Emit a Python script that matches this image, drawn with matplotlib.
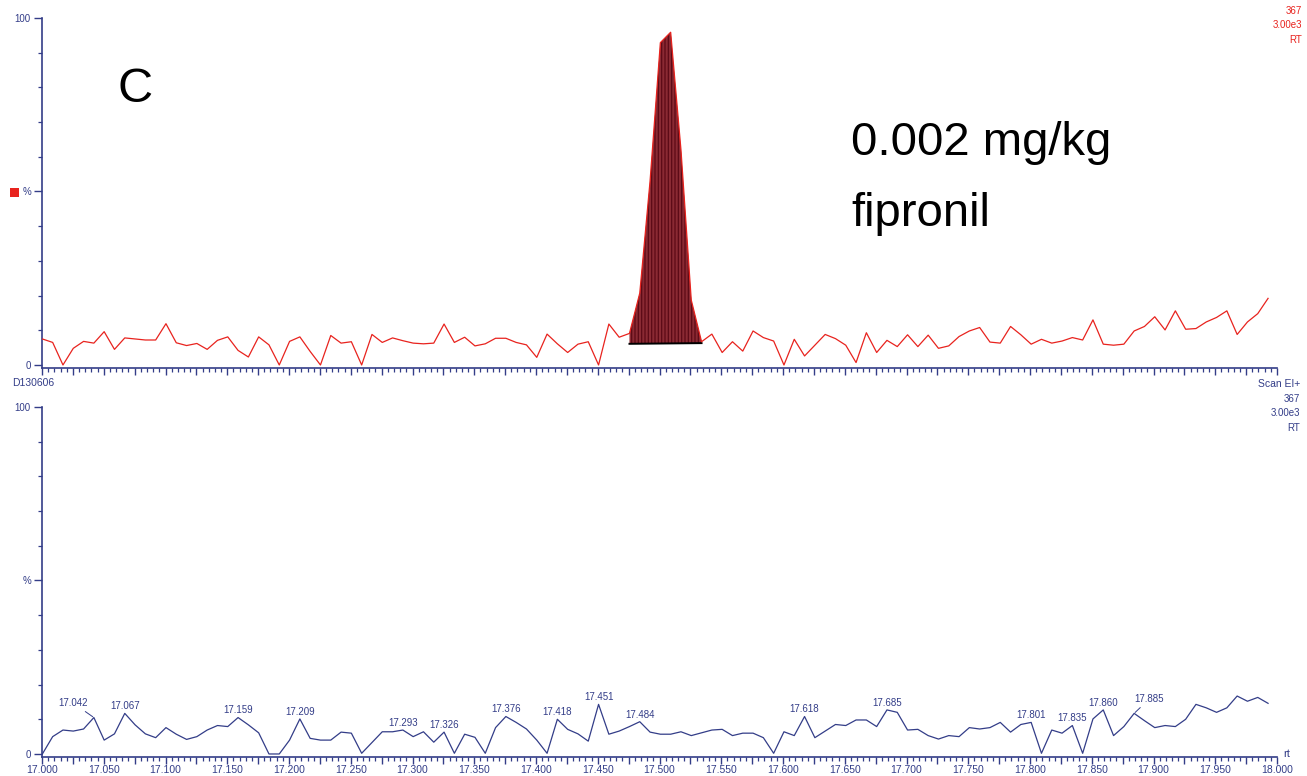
import numpy as np
import matplotlib
matplotlib.use("Agg")
import matplotlib.pyplot as plt
from matplotlib.ticker import MultipleLocator, FixedLocator, FuncFormatter
from matplotlib.patches import Rectangle

plt.rcParams['font.family'] = ['Liberation Sans', 'DejaVu Sans']
plt.rcParams['hatch.linewidth'] = 0.9

NAVY = '#333d88'
RED = '#e8231e'
PEAK_FILL = '#8a2a33'
PEAK_HATCH = '#5c0a16'

# scan grid, retention time in minutes
scan_start = 17.0003
scan_step = 0.00834
n_scans = 120

# upper trace (fortified sample), % of 3.00e3
top_pct = [7.5, 6.5, 0.0, 4.8, 6.8, 6.3, 9.6, 4.5, 7.8, 7.5,
           7.2, 7.2, 11.9, 6.4, 5.6, 6.2, 4.5, 7.1, 8.1, 4.2,
           2.3, 8.1, 5.8, 0.0, 6.8, 8.1, 3.9, 0.0, 8.5, 6.3,
           6.7, 0.0, 8.8, 6.5, 7.8, 7.0, 6.3, 6.1, 6.3, 11.8,
           6.5, 8.0, 5.5, 6.1, 7.7, 7.7, 6.5, 5.8, 2.2, 8.9,
           6.1, 3.6, 6.0, 6.7, 0.0, 11.8, 8.0, 9.1, 20.7, 53.0,
           92.9, 95.9, 62.0, 18.7, 6.7, 8.9, 3.6, 6.7, 4.0, 9.8,
           7.9, 6.9, 0.0, 7.4, 2.6, 5.7, 8.8, 7.6, 5.7, 0.7,
           9.3, 3.6, 7.1, 5.3, 8.7, 5.3, 8.6, 4.8, 5.5, 8.2,
           9.8, 10.8, 6.6, 6.3, 11.1, 8.7, 6.0, 7.4, 6.3, 6.9,
           7.9, 7.2, 13.0, 6.0, 5.7, 6.0, 9.8, 11.1, 13.9, 10.1,
           15.6, 10.3, 10.5, 12.4, 13.7, 15.6, 8.8, 12.4, 14.8, 19.2]

# integrated peak: first/last scan and baseline level
peak_start, peak_end = 57, 64
peak_base = [6.1, 6.3]

# lower trace (blank), % of 3.00e3
bottom_pct = [0.0, 5.0, 6.9, 6.6, 7.2, 10.5, 4.0, 5.8, 11.7, 8.4,
              5.8, 4.7, 7.6, 5.7, 4.2, 5.0, 6.9, 8.2, 7.9, 10.5,
              8.4, 6.1, 0.0, 0.0, 4.0, 10.1, 4.5, 4.0, 4.0, 6.3,
              6.0, 0.2, 3.3, 6.4, 6.4, 6.9, 5.0, 6.4, 3.4, 6.3,
              0.2, 5.7, 4.8, 0.2, 7.6, 10.8, 9.1, 7.2, 4.0, 0.2,
              10.0, 7.1, 5.8, 3.7, 14.3, 5.7, 6.6, 7.9, 9.3, 6.3,
              5.7, 5.7, 6.4, 5.3, 6.1, 6.9, 7.1, 5.3, 6.0, 6.0,
              4.7, 0.2, 6.4, 5.3, 10.8, 4.7, 6.6, 8.5, 8.2, 9.8,
              9.8, 7.9, 12.7, 12.0, 6.9, 7.1, 5.3, 4.3, 5.3, 5.0,
              7.6, 7.2, 7.6, 9.1, 6.3, 8.5, 9.1, 0.2, 6.9, 6.0,
              8.2, 0.2, 10.1, 12.7, 5.3, 7.9, 11.7, 9.6, 7.6, 8.2,
              7.9, 10.0, 14.3, 13.3, 12.0, 13.3, 16.7, 15.2, 16.3, 14.6]

peak_labels = ['17.042', '17.067', '17.159', '17.209', '17.293', '17.326',
               '17.376', '17.418', '17.451', '17.484', '17.618', '17.685',
               '17.801', '17.835', '17.860', '17.885']
# labels pushed aside with a leader line (offset in points)
leader_offsets = {'17.042': (-15, 10.5), '17.885': (11, 10.5)}

rt = scan_start + scan_step * np.arange(n_scans)
top_pct = np.array(top_pct)
bottom_pct = np.array(bottom_pct)

W, H = 1307, 776
fig = plt.figure(figsize=(W / 100, H / 100), dpi=100)


def px_axes(top_px, bottom_px):
    return fig.add_axes([42 / W, 1 - bottom_px / H, 1235 / W, (bottom_px - top_px) / H])


def style_axes(ax, show_xlabels):
    ax.set_xlim(17.0, 18.0)
    ax.set_ylim(-0.87, 100)
    for s in ('top', 'right'):
        ax.spines[s].set_visible(False)
    for s in ('left', 'bottom'):
        ax.spines[s].set_color(NAVY)
        ax.spines[s].set_linewidth(1.2)
    ax.yaxis.set_major_locator(FixedLocator([0, 50, 100]))
    ax.yaxis.set_major_formatter(FuncFormatter(lambda v, p: {0: '0', 50: '%', 100: '100'}.get(int(v), '')))
    ax.yaxis.set_minor_locator(MultipleLocator(10))
    ax.xaxis.set_major_locator(MultipleLocator(0.025))
    ax.xaxis.set_minor_locator(MultipleLocator(0.005))
    if show_xlabels:
        ax.xaxis.set_major_formatter(FuncFormatter(
            lambda v, p: f'{v:.3f}' if abs(round(v / 0.05) * 0.05 - v) < 1e-6 else ''))
    else:
        ax.xaxis.set_major_formatter(FuncFormatter(lambda v, p: ''))
    ax.tick_params(axis='both', which='major', length=6, width=1.0, color=NAVY,
                   labelcolor=NAVY, labelsize=7, pad=2)
    ax.tick_params(axis='both', which='minor', length=3, width=0.9, color=NAVY)
    ax.tick_params(axis='x', which='major', length=5, labelsize=7.5, pad=0.5)


# ---- upper panel -------------------------------------------------------
ax1 = px_axes(18, 368)
style_axes(ax1, False)
xs = rt[peak_start:peak_end + 1]
ax1.fill_between(xs, top_pct[peak_start:peak_end + 1],
                 np.interp(xs, [xs[0], xs[-1]], peak_base),
                 facecolor=PEAK_FILL, edgecolor=PEAK_HATCH, hatch='|||||',
                 linewidth=0, zorder=2)
ax1.plot([xs[0], xs[-1]], peak_base, color='black', lw=1.4, zorder=3)
ax1.plot(rt, top_pct, color=RED, lw=0.9, zorder=4)

# ---- lower panel -------------------------------------------------------
ax2 = px_axes(407, 757)
style_axes(ax2, True)
ax2.plot(rt, bottom_pct, color=NAVY, lw=0.9)
for lab in peak_labels:
    i = int(np.argmin(np.abs(rt - float(lab))))
    if lab in leader_offsets:
        ax2.annotate(lab, (rt[i], bottom_pct[i]), xytext=leader_offsets[lab],
                     textcoords='offset points', ha='center', va='center',
                     fontsize=7, color=NAVY,
                     arrowprops=dict(arrowstyle='-', color=NAVY, lw=0.7,
                                     shrinkA=1, shrinkB=1))
    else:
        ax2.annotate(lab, (rt[i], bottom_pct[i]), xytext=(0, 3),
                     textcoords='offset points', ha='center', va='baseline',
                     fontsize=7, color=NAVY)


# ---- figure texts ------------------------------------------------------
def ftext(x, y, s, **kw):
    fig.text(x / W, 1 - y / H, s, **kw)


ftext(117, 90, 'C', fontsize=35, color='black', ha='left', va='center')
ftext(851, 155, '0.002 mg/kg', fontsize=34, color='black', ha='left', va='baseline')
ftext(851, 226, 'fipronil', fontsize=34, color='black', ha='left', va='baseline')

ftext(1302, 11, '367', fontsize=7, color=RED, ha='right', va='center')
ftext(1302, 25, '3.00e3', fontsize=7, color=RED, ha='right', va='center')
ftext(1302, 40, 'RT', fontsize=7, color=RED, ha='right', va='center')

ftext(12, 383, 'D130606', fontsize=7.5, color=NAVY, ha='left', va='center')
ftext(1300, 384, 'Scan EI+', fontsize=7.5, color=NAVY, ha='right', va='center')
ftext(1300, 399, '367', fontsize=7, color=NAVY, ha='right', va='center')
ftext(1300, 413, '3.00e3', fontsize=7, color=NAVY, ha='right', va='center')
ftext(1300, 428, 'RT', fontsize=7, color=NAVY, ha='right', va='center')
ftext(1283, 754, 'rt', fontsize=8, color=NAVY, ha='left', va='center')

# red trace marker next to the upper % label
fig.add_artist(Rectangle((10 / W, 1 - 197 / H), 9 / W, 9 / H,
                         transform=fig.transFigure, facecolor=RED, edgecolor='none'))

fig.savefig('out.png', dpi=100)
